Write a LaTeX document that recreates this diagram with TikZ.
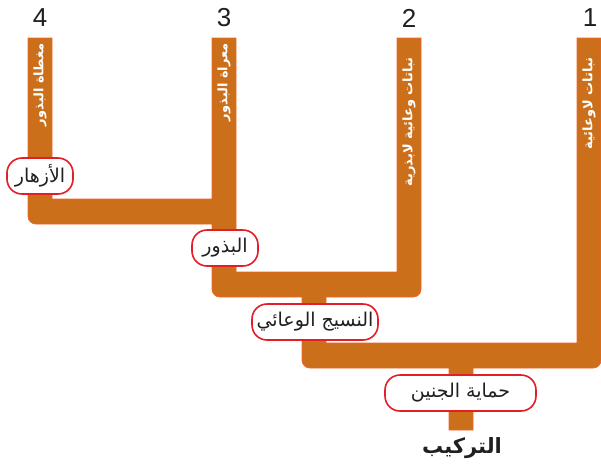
\documentclass[tikz,border=0pt]{standalone}
\usepackage{fontspec}
\setmainfont{Liberation Sans}
\newfontfamily\arabicfont[Script=Arabic]{DejaVu Sans}
\TeXXeTstate=1
\definecolor{barfill}{RGB}{204,111,27}
\definecolor{baredge}{RGB}{242,100,40}
\definecolor{lblred}{RGB}{228,30,38}
\definecolor{numgray}{RGB}{35,31,32}
\tikzset{
  lbl/.style={draw=lblred, line width=1.6pt, fill=white, rounded corners=15pt,
    minimum height=36pt, inner xsep=2pt, inner ysep=0pt, font=\arabicfont\fontsize{19}{21}\selectfont, text=numgray},
  vtxt/.style={rotate=90, anchor=east, text=white, inner sep=0pt, font=\arabicfont\bfseries\fontsize{13}{15}\selectfont},
  num/.style={text=numgray, font=\fontsize{26}{28}\selectfont, inner sep=0pt}
}
\begin{document}
\begin{tikzpicture}[x=1pt,y=-1pt]
\useasboundingbox (0,0) rectangle (601,467);
% bars
\filldraw[fill=barfill, draw=baredge, line width=0.8pt, line join=miter]
  (28,38) -- (52,38) -- (52,199) -- (212,199) -- (212,38) -- (236,38) -- (236,272)
  -- (397,272) -- (397,38) -- (421,38) -- (421,289)
  arc[start angle=0, end angle=90, radius=8]
  -- (326,297) -- (326,343) -- (577,343) -- (577,38) -- (601,38) -- (601,360)
  arc[start angle=0, end angle=90, radius=8]
  -- (473,368) -- (473,430) -- (449,430) -- (449,368) -- (310,368)
  arc[start angle=90, end angle=180, radius=8]
  -- (302,297) -- (220,297)
  arc[start angle=90, end angle=180, radius=8]
  -- (212,224) -- (36,224)
  arc[start angle=90, end angle=180, radius=8]
  -- cycle;
% numbers
\node[num] (n4) at (40,18) {4};
\node[num] (n3) at (224,18) {3};
\node[num] (n2) at (409,18) {2};
\node[num] (n1) at (590,18) {1};
% vertical texts
\node[vtxt] (v4) at (40,43) {\beginR مغطاة البذور\endR};
\node[vtxt] (v3) at (224,43) {\beginR معراة البذور\endR};
\node[vtxt] (v2) at (409,57) {\beginR نباتات وعائية لابذرية\endR};
\node[vtxt] (v1) at (589,57) {\beginR نباتات لاوعائية\endR};
% labels
\node[lbl, minimum width=66pt] (azhar) at (40,176) {\beginR الأزهار\endR};
\node[lbl, minimum width=66pt] (buthur) at (225,248) {\beginR البذور\endR};
\node[lbl, minimum width=126pt] (nasij) at (315,322) {\beginR النسيج الوعائي\endR};
\node[lbl, minimum width=151pt] (hemaya) at (460.5,393) {\beginR حماية الجنين\endR};
\node[text=numgray, font=\arabicfont\bfseries\fontsize{21}{24}\selectfont, inner sep=0pt] (title) at (462,448) {\beginR التركيب\endR};
\end{tikzpicture}
\end{document}
